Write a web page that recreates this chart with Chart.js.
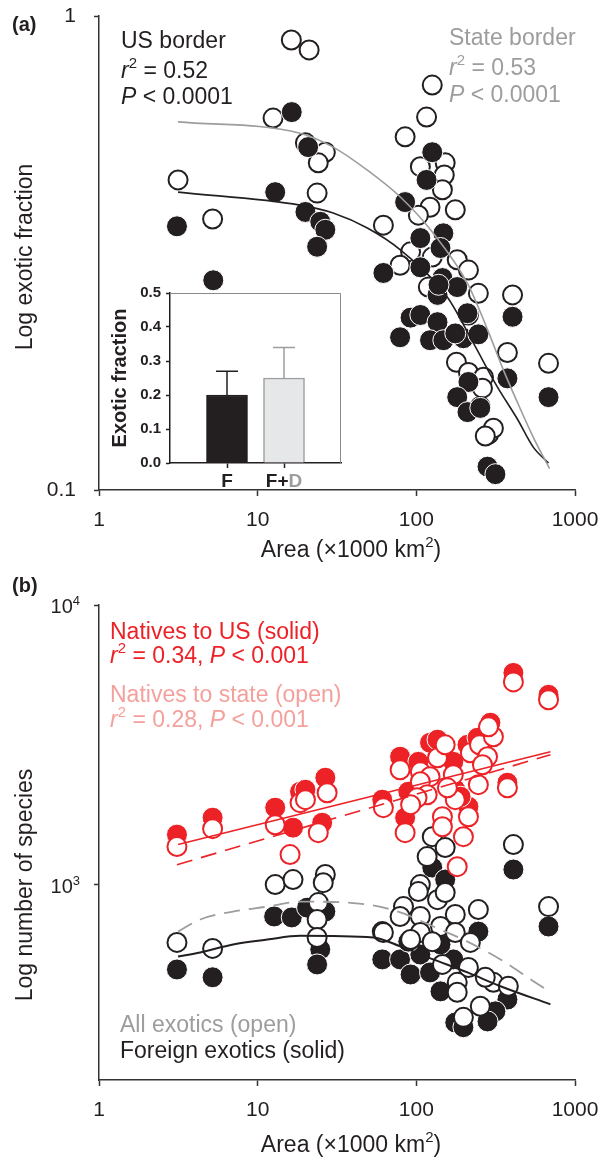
<!DOCTYPE html>
<html>
<head>
<meta charset="utf-8">
<title>Exotic fraction and species number vs area</title>
<script src="https://cdn.jsdelivr.net/npm/chart.js@4.4.1/dist/chart.umd.min.js"></script>
<style>
  html, body { margin: 0; padding: 0; background: #fff; }
  #page { position: relative; width: 602px; height: 1159px; overflow: hidden; }
  canvas { position: absolute; }
  #panelA { left: 0; top: 0; }
  #inset { left: 100px; top: 280px; }
  #panelB { left: 0; top: 575px; }
</style>
</head>
<body>
<div id="page">
  <canvas id="panelA" width="602" height="570"></canvas>
  <canvas id="inset" width="250" height="215"></canvas>
  <canvas id="panelB" width="602" height="584"></canvas>
</div>
<script>
const FONT = "'Liberation Sans', Arial, Helvetica, sans-serif";
const INK = '#231f20';
const GREY = '#9d9d9d';
const RED = '#ec2227';
const PINK = '#f4a19d';

// ---- (a) exotic fraction vs area (x1000 km2) ----
const usBorderArea = [3.1, 5.25, 16.4, 20.8, 12.9, 20.0, 24.8, 26.7, 23.7,
  126, 116, 85, 148, 106, 142, 62, 106, 146, 181,
  136, 92, 106, 79, 136, 122, 148, 198, 246, 210,
  404, 375, 213, 681, 181, 210, 253, 281, 315, 176, 138];
const usBorderFrac = [0.360, 0.277, 0.627, 0.529, 0.425, 0.386, 0.368, 0.354, 0.326,
  0.516, 0.451, 0.405, 0.348, 0.340, 0.324, 0.287, 0.295, 0.280, 0.268,
  0.258, 0.231, 0.234, 0.210, 0.226, 0.207, 0.207, 0.209, 0.213, 0.236,
  0.232, 0.172, 0.169, 0.157, 0.157, 0.146, 0.149, 0.112, 0.108, 0.214, 0.271];

const stateBorderArea = [3.15, 5.2, 16.3, 21.1, 12.5, 20.0, 26.7, 24.1, 23.7,
  126, 116, 85, 106, 152, 150, 146, 122, 176, 103,
  62, 92, 79, 181, 213, 119, 126, 246, 404, 213,
  375, 681, 179, 213, 265, 261, 253, 285, 306, 272];
const stateBorderFrac = [0.451, 0.373, 0.890, 0.848, 0.609, 0.540, 0.516, 0.490, 0.423,
  0.715, 0.612, 0.556, 0.481, 0.490, 0.462, 0.430, 0.395, 0.390, 0.380,
  0.362, 0.318, 0.298, 0.306, 0.291, 0.268, 0.310, 0.260, 0.258, 0.234,
  0.195, 0.185, 0.186, 0.177, 0.173, 0.164, 0.150, 0.131, 0.135, 0.130];

// fitted curves as drawn in the figure
const usFitArea = [3.15, 18.5, 29.9, 49.1, 79.3, 157, 229, 324, 434, 547, 681];
const usFitFrac = [0.425, 0.399, 0.384, 0.357, 0.321, 0.255, 0.204, 0.165, 0.141, 0.123, 0.114];
const stateFitArea = [3.15, 18.5, 29.9, 49.1, 79.3, 128, 210, 281, 354, 434, 547, 691];
const stateFitFrac = [0.598, 0.566, 0.529, 0.473, 0.415, 0.348, 0.273, 0.218, 0.179, 0.153, 0.129, 0.111];

// inset: mean exotic fraction
const insetLabels = ['F', 'F+D'];
const insetMean = [0.20, 0.25];
const insetUpper = [0.27, 0.34];

// ---- (b) number of species vs area ----
const nativeUSArea = [3.1, 5.2, 12.9, 18.5, 16.7, 26.7, 20.0, 25.5, 61, 79,
  103, 85, 122, 136, 210, 243, 293, 409, 681, 171,
  213, 176, 375, 89, 190];
const nativeUSCount = [1509, 1735, 1884, 2148, 1598, 2411, 2184, 1664, 2012, 2866,
  2748, 1735, 3216, 3298, 3162, 3351, 3792, 5715, 4772, 2748,
  1900, 2184, 2314, 2148, 2062];

const nativeStateArea = [3.1, 5.2, 12.9, 16.0, 18.5, 20.0, 27.4, 24.1, 62, 79,
  106, 136, 152, 171, 122, 106, 117, 101, 92, 176,
  146, 213, 85, 146, 198, 181, 219, 250, 306, 281,
  261, 246, 375, 409, 681, 285, 157];
const nativeStateCount = [1368, 1585, 1637, 1280, 1963, 2012, 2131, 1534, 1884, 2574,
  2534, 2842, 3162, 2472, 2432, 2333, 2096, 2045, 1931, 2012,
  1749, 1749, 1534, 1610, 1484, 1159, 2960, 3162, 3380, 2866,
  2683, 2277, 2219, 5309, 4581, 3667, 2219];

const allExoticArea = [3.1, 5.2, 12.9, 16.7, 26.7, 24.1, 23.7, 23.7, 61, 126,
  152, 117, 106, 409, 103, 136, 152, 83, 79, 106,
  176, 246, 62, 142, 106, 92, 126, 176, 219, 146,
  213, 181, 306, 380, 253, 198, 681, 272, 181, 25.9];
const allExoticCount = [621, 591, 1000, 1042, 1087, 862, 750, 647, 679, 1484,
  1356, 1259, 1000, 1390, 944, 883, 936, 834, 769, 769,
  782, 814, 674, 708, 674, 636, 625, 674, 621, 518,
  505, 447, 447, 433, 367, 335, 834, 466, 412, 1016];

const foreignArea = [3.1, 5.2, 12.7, 16.4, 20.5, 26.7, 24.8, 23.7, 61, 79,
  92, 106, 122, 142, 171, 246, 375, 315, 281, 176,
  198, 681, 409, 126, 152, 89, 142];
const foreignCount = [497, 466, 769, 763, 827, 801, 586, 518, 540, 540,
  477, 562, 485, 415, 540, 679, 388, 352, 324, 321,
  309, 708, 1132, 1150, 1042, 625, 611];

const nativeUSFitArea = [3.15, 700];
const nativeUSFitCount = [1390, 2985];
const nativeStateFitArea = [3.1, 700];
const nativeStateFitCount = [1178, 2913];
const foreignFitArea = [3.15, 4.34, 7.0, 11.5, 18.5, 53.6, 79.3, 128, 210, 339, 700];
const foreignFitCount = [553, 572, 611, 636, 656, 647, 601, 540, 485, 433, 373];
const allFitArea = [3.15, 4.34, 7.0, 11.5, 18.5, 49.1, 79.3, 128, 210, 339, 547, 700];
const allFitCount = [679, 750, 801, 834, 869, 848, 795, 708, 625, 540, 451, 412];

const areaTicks = [1, 10, 100, 1000];
const fracTicks = [0.1, 1];
const speciesTicks = [1000, 10000];

const pts = (xs, ys) => xs.map((x, i) => ({ x, y: ys[i] }));

const openDots = (data, color) => ({ data, pointRadius: 9.5, borderWidth: 2, borderColor: color, backgroundColor: '#fff' });
const solidDots = (data, color) => ({ data, pointRadius: 10.5, borderWidth: 1, borderColor: '#fff', backgroundColor: color });
const fitLine = (data, color, width, dash) => ({
  data, showLine: true, pointRadius: 0, borderColor: color, borderWidth: width,
  borderDash: dash || [], cubicInterpolationMode: 'monotone', fill: false
});

// fixed axis box sizes, and no extra label padding so the plot area sits where the figure has it
function fixBox(size) {
  return s => {
    if (s.isHorizontal()) s.height = size; else s.width = size;
    s.paddingTop = 0; s.paddingBottom = 0; s.paddingLeft = 0; s.paddingRight = 0;
  };
}

function logAxis(min, max, tickVals, label, o) {
  return {
    type: 'logarithmic', min, max,
    afterBuildTicks: s => { s.ticks = tickVals.map(v => ({ value: v })); },
    afterFit: fixBox(o.size),
    ticks: { callback: label, autoSkip: false, maxRotation: 0, padding: o.pad, color: INK, font: { family: FONT, size: 21 } },
    grid: { drawOnChartArea: false, tickLength: o.tl, tickColor: '#333', tickWidth: 1.5 },
    border: { color: '#333', width: 1.5 }
  };
}

// text runs: [text, flag] with flag 'i' italic, 's' superscript
function drawRuns(ctx, n) {
  const size = n.size || 23;
  const fontFor = r => `${r[1] === 'i' ? 'italic ' : ''}${n.bold ? 'bold ' : ''}${r[1] === 's' ? Math.round(size * 0.65) : size}px ${FONT}`;
  ctx.save();
  ctx.fillStyle = n.color;
  ctx.textBaseline = 'alphabetic';
  ctx.textAlign = 'left';
  let total = 0;
  n.runs.forEach(r => { ctx.font = fontFor(r); total += ctx.measureText(r[0]).width; });
  ctx.translate(n.x, n.y);
  if (n.rotate) ctx.rotate(-Math.PI / 2);
  let x = n.align === 'center' ? -total / 2 : n.align === 'right' ? -total : 0;
  n.runs.forEach(r => {
    ctx.font = fontFor(r);
    ctx.fillText(r[0], x, r[1] === 's' ? -Math.round(size * 0.42) : 0);
    x += ctx.measureText(r[0]).width;
  });
  ctx.restore();
}
const notes = list => ({ id: 'notes', afterDraw(chart) { list.forEach(n => drawRuns(chart.ctx, n)); } });

const baseOptions = {
  responsive: false, animation: false, events: [], devicePixelRatio: 1,
  plugins: { legend: { display: false }, tooltip: { enabled: false } }
};

// ---------- panel (a) ----------
new Chart(document.getElementById('panelA'), {
  type: 'scatter',
  data: {
    datasets: [
      fitLine(pts(stateFitArea, stateFitFrac), GREY, 1.6),
      fitLine(pts(usFitArea, usFitFrac), INK, 1.6),
      solidDots(pts(usBorderArea, usBorderFrac), INK),
      openDots(pts(stateBorderArea, stateBorderFrac), INK)
    ]
  },
  options: {
    ...baseOptions,
    layout: { padding: { left: 0, right: 27, top: 16, bottom: 0 } },
    scales: {
      x: logAxis(1, 1000, areaTicks, v => String(v), { size: 80, pad: 12, tl: 6 }),
      y: logAxis(0.1, 1, fracTicks, v => String(v), { size: 99, pad: 18, tl: 5 })
    }
  },
  plugins: [notes([
    { x: 12, y: 31, bold: true, size: 20, color: INK, runs: [['(a)']] },
    { x: 121, y: 48, color: INK, runs: [['US border']] },
    { x: 121, y: 78, color: INK, runs: [['r', 'i'], ['2', 's'], [' = 0.52']] },
    { x: 121, y: 104, color: INK, runs: [['P', 'i'], [' < 0.0001']] },
    { x: 449, y: 45, color: GREY, runs: [['State border']] },
    { x: 449, y: 75, color: GREY, runs: [['r', 'i'], ['2', 's'], [' = 0.53']] },
    { x: 449, y: 102, color: GREY, runs: [['P', 'i'], [' < 0.0001']] },
    { x: 351, y: 557, align: 'center', color: INK, runs: [['Area (×1000 km'], ['2', 's'], [')']] },
    { x: 32, y: 257, rotate: true, align: 'center', color: INK, runs: [['Log exotic fraction']] }
  ])]
});

// ---------- inset bars ----------
const insetExtras = {
  id: 'insetExtras',
  afterDatasetsDraw(chart) {
    const { ctx, chartArea: a, scales: { x, y } } = chart;
    ctx.save();
    ctx.strokeStyle = '#8a8a8a';
    ctx.lineWidth = 1;
    ctx.beginPath();
    ctx.moveTo(a.left, a.top + 0.5);
    ctx.lineTo(a.right - 0.5, a.top + 0.5);
    ctx.lineTo(a.right - 0.5, a.bottom);
    ctx.stroke();
    insetUpper.forEach((hi, i) => {
      const px = x.getPixelForValue(i + 1);
      const top = y.getPixelForValue(hi);
      ctx.strokeStyle = i ? GREY : INK;
      ctx.lineWidth = 1.5;
      ctx.beginPath();
      ctx.moveTo(px, y.getPixelForValue(insetMean[i]));
      ctx.lineTo(px, top);
      ctx.moveTo(px - 11, top);
      ctx.lineTo(px + 11, top);
      ctx.stroke();
    });
    insetLabels.forEach((lab, i) => {
      const px = x.getPixelForValue(i + 1);
      const runs = lab.includes('+') ? [['F+', INK], ['D', GREY]] : [[lab, INK]];
      ctx.font = `bold 19px ${FONT}`;
      ctx.textBaseline = 'alphabetic';
      let w = 0;
      runs.forEach(r => { w += ctx.measureText(r[0]).width; });
      let cx = px - w / 2;
      runs.forEach(r => {
        ctx.fillStyle = r[1];
        ctx.fillText(r[0], cx, 207);
        cx += ctx.measureText(r[0]).width;
      });
    });
    ctx.restore();
    drawRuns(ctx, { x: 26, y: (a.top + a.bottom) / 2, rotate: true, align: 'center', bold: true, size: 20, color: INK, runs: [['Exotic fraction']] });
  }
};

new Chart(document.getElementById('inset'), {
  type: 'bar',
  data: {
    datasets: [{
      data: insetLabels.map((_, i) => ({ x: i + 1, y: insetMean[i] })),
      backgroundColor: [INK, '#e6e7e8'],
      borderColor: [INK, GREY],
      borderWidth: 1.5,
      barThickness: 41
    }]
  },
  options: {
    ...baseOptions,
    layout: { padding: { left: 0, right: 9, top: 13, bottom: 0 } },
    scales: {
      x: {
        type: 'linear', min: 0, max: 3, offset: false,
        afterBuildTicks: s => { s.ticks = [{ value: 1 }, { value: 2 }]; },
        afterFit: fixBox(32),
        ticks: { callback: () => '' },
        grid: { drawOnChartArea: false, offset: false, tickLength: 5, tickColor: INK, tickWidth: 1.5 },
        border: { color: INK, width: 1.5 }
      },
      y: {
        min: 0, max: 0.5,
        afterFit: fixBox(70),
        ticks: { stepSize: 0.1, callback: v => v.toFixed(1), color: INK, padding: 5, font: { family: FONT, size: 15, weight: 'bold' } },
        grid: { drawOnChartArea: false, tickLength: 4, tickColor: INK, tickWidth: 1.5 },
        border: { color: INK, width: 1.5 }
      }
    }
  },
  plugins: [insetExtras]
});

// ---------- panel (b) ----------
const speciesTickLabels = {
  id: 'speciesTickLabels',
  afterDraw(chart) {
    const y = chart.scales.y;
    speciesTicks.forEach(v => drawRuns(chart.ctx, {
      x: 80, y: y.getPixelForValue(v) + 8, align: 'right', size: 20, color: INK,
      runs: [['10'], [String(Math.round(Math.log10(v))), 's']]
    }));
  }
};

new Chart(document.getElementById('panelB'), {
  type: 'scatter',
  data: {
    datasets: [
      fitLine(pts(nativeStateFitArea, nativeStateFitCount), RED, 1.6, [16, 9]),
      fitLine(pts(nativeUSFitArea, nativeUSFitCount), RED, 1.6),
      fitLine(pts(allFitArea, allFitCount), GREY, 1.8, [16, 9]),
      fitLine(pts(foreignFitArea, foreignFitCount), INK, 2),
      openDots(pts(nativeStateArea, nativeStateCount), RED),
      solidDots(pts(nativeUSArea, nativeUSCount), RED),
      openDots(pts(allExoticArea, allExoticCount), INK),
      solidDots(pts(foreignArea, foreignCount), INK)
    ]
  },
  options: {
    ...baseOptions,
    layout: { padding: { left: 0, right: 27, top: 30, bottom: 0 } },
    scales: {
      x: logAxis(1, 1000, areaTicks, v => String(v), { size: 79, pad: 12, tl: 6 }),
      y: logAxis(200, 10000, speciesTicks, () => '', { size: 99, pad: 14, tl: 5 })
    }
  },
  plugins: [speciesTickLabels, notes([
    { x: 12, y: 17, bold: true, size: 20, color: INK, runs: [['(b)']] },
    { x: 110, y: 64, color: RED, runs: [['Natives to US (solid)']] },
    { x: 110, y: 88, color: RED, runs: [['r', 'i'], ['2', 's'], [' = 0.34, '], ['P', 'i'], [' < 0.001']] },
    { x: 110, y: 127, color: PINK, runs: [['Natives to state (open)']] },
    { x: 110, y: 152, color: PINK, runs: [['r', 'i'], ['2', 's'], [' = 0.28, '], ['P', 'i'], [' < 0.001']] },
    { x: 120, y: 457, color: GREY, runs: [['All exotics (open)']] },
    { x: 120, y: 483, color: INK, runs: [['Foreign exotics (solid)']] },
    { x: 351, y: 577, align: 'center', color: INK, runs: [['Area (×1000 km'], ['2', 's'], [')']] },
    { x: 32, y: 310, rotate: true, align: 'center', color: INK, runs: [['Log number of species']] }
  ])]
});
</script>
</body>
</html>
